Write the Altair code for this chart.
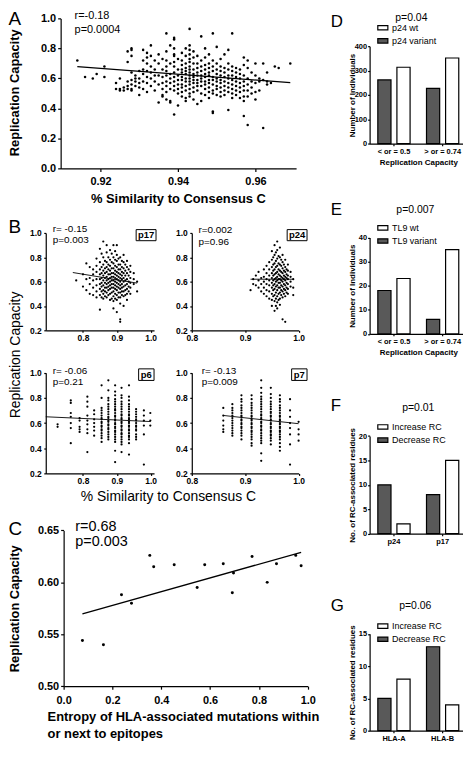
import altair as alt
import pandas as pd

# ---------------- values ----------------
# Panel A: (% similarity to consensus C, [replication capacity ...]) stripes
A_STRIPES = [
    (0.914, [0.72]), (0.916, [0.61]), (0.918, [0.60]), (0.919, [0.63]),
    (0.921, [0.68, 0.61]), (0.924, [0.57, 0.53]), (0.925, [0.53, 0.60, 0.52]),
    (0.926, [0.52, 0.54]), (0.927, [0.78, 0.71, 0.55, 0.53, 0.58]),
    (0.928, [0.80, 0.79, 0.75, 0.64, 0.59, 0.56, 0.53, 0.52]),
    (0.929, [0.62, 0.58, 0.55, 0.60]), (0.930, [0.65, 0.60, 0.57, 0.54, 0.49]),
    (0.931, [0.79, 0.72, 0.66, 0.63, 0.58, 0.53]),
    (0.932, [0.77, 0.74, 0.70, 0.65, 0.61, 0.57, 0.51]),
    (0.933, [0.82, 0.75, 0.68, 0.64, 0.60, 0.55]),
    (0.934, [0.72, 0.66, 0.62, 0.58, 0.52]), (0.935, [0.76, 0.70, 0.62, 0.56, 0.44]),
    (0.936, [0.73, 0.66, 0.61, 0.57, 0.53, 0.49, 0.48]),
    (0.937, [0.90, 0.78, 0.72, 0.68, 0.65, 0.62, 0.58, 0.55, 0.51, 0.46]),
    (0.938, [0.82, 0.70, 0.63, 0.60, 0.57, 0.53, 0.45, 0.44]),
    (0.939, [0.87, 0.86, 0.80, 0.76, 0.75, 0.71, 0.68, 0.64, 0.61, 0.58, 0.55, 0.52, 0.36]),
    (0.940, [0.73, 0.66, 0.62, 0.59, 0.56, 0.53, 0.50, 0.42]),
    (0.941, [0.77, 0.72, 0.69, 0.66, 0.64, 0.61, 0.59, 0.56, 0.54, 0.51, 0.48]),
    (0.942, [0.80, 0.75, 0.70, 0.67, 0.65, 0.63, 0.60, 0.58, 0.55, 0.52, 0.47, 0.45]),
    (0.943, [0.93, 0.82, 0.79, 0.76, 0.73, 0.71, 0.68, 0.66, 0.64, 0.62, 0.60, 0.58, 0.56, 0.53, 0.50, 0.48]),
    (0.944, [0.78, 0.74, 0.70, 0.66, 0.63, 0.61, 0.59, 0.57, 0.54, 0.51, 0.46]),
    (0.945, [0.75, 0.70, 0.67, 0.64, 0.62, 0.59, 0.57, 0.55, 0.52, 0.43]),
    (0.946, [0.88, 0.72, 0.68, 0.65, 0.62, 0.60, 0.58, 0.55, 0.50, 0.45]),
    (0.947, [0.80, 0.74, 0.69, 0.66, 0.63, 0.61, 0.58, 0.56, 0.53, 0.49]),
    (0.948, [0.76, 0.70, 0.67, 0.64, 0.62, 0.59, 0.57, 0.54, 0.51, 0.47]),
    (0.949, [0.90, 0.72, 0.68, 0.65, 0.61, 0.59, 0.56, 0.52, 0.50, 0.38, 0.37]),
    (0.950, [0.81, 0.70, 0.66, 0.63, 0.60, 0.58, 0.55, 0.53, 0.49]),
    (0.951, [0.73, 0.68, 0.65, 0.62, 0.59, 0.57, 0.54, 0.51, 0.48]),
    (0.952, [0.76, 0.67, 0.64, 0.61, 0.58, 0.55, 0.52, 0.49]),
    (0.953, [0.79, 0.70, 0.66, 0.62, 0.60, 0.57, 0.54, 0.51, 0.39]),
    (0.954, [0.90, 0.68, 0.65, 0.62, 0.59, 0.56, 0.53, 0.50, 0.47]),
    (0.955, [0.67, 0.64, 0.61, 0.58, 0.55, 0.52, 0.49]),
    (0.956, [0.66, 0.63, 0.60, 0.57, 0.54, 0.51, 0.47]),
    (0.957, [0.74, 0.69, 0.62, 0.58, 0.55, 0.52, 0.48, 0.45, 0.35]),
    (0.958, [0.72, 0.67, 0.60, 0.56, 0.52, 0.48, 0.29]),
    (0.959, [0.64, 0.58, 0.54, 0.50]), (0.960, [0.70, 0.62, 0.57, 0.51, 0.46]),
    (0.961, [0.60, 0.58, 0.52]), (0.962, [0.70, 0.59, 0.27]),
    (0.963, [0.64, 0.58, 0.56]), (0.964, [0.57]), (0.965, [0.68]),
    (0.966, [0.67]), (0.969, [0.70]),
]
A_FIT_X = [0.914, 0.969]
A_FIT_Y = [0.678, 0.572]

P17_STRIPES = [
    (0.78, [0.61]), (0.80, [0.66, 0.56]), (0.81, [0.75, 0.62, 0.53]),
    (0.82, [0.72, 0.63, 0.58, 0.50]), (0.83, [0.70, 0.66, 0.61, 0.55, 0.49]),
    (0.84, [0.79, 0.73, 0.68, 0.62, 0.57, 0.52, 0.47]),
    (0.85, [0.87, 0.76, 0.70, 0.66, 0.62, 0.58, 0.54, 0.49, 0.37]),
    (0.855, [0.83, 0.72, 0.67, 0.63, 0.59, 0.56, 0.52, 0.47]),
    (0.86, [0.93, 0.80, 0.74, 0.69, 0.65, 0.61, 0.57, 0.53, 0.50, 0.46]),
    (0.865, [0.77, 0.71, 0.67, 0.63, 0.59, 0.55, 0.52, 0.48]),
    (0.87, [0.90, 0.84, 0.76, 0.72, 0.68, 0.64, 0.61, 0.58, 0.55, 0.51, 0.47]),
    (0.875, [0.80, 0.74, 0.70, 0.66, 0.62, 0.59, 0.56, 0.53, 0.49]),
    (0.88, [0.86, 0.78, 0.73, 0.69, 0.66, 0.63, 0.60, 0.57, 0.54, 0.50, 0.45]),
    (0.885, [0.83, 0.76, 0.71, 0.67, 0.64, 0.61, 0.58, 0.55, 0.51, 0.46]),
    (0.89, [0.90, 0.80, 0.75, 0.71, 0.67, 0.64, 0.61, 0.58, 0.55, 0.52, 0.48, 0.44, 0.38]),
    (0.895, [0.85, 0.78, 0.73, 0.69, 0.66, 0.63, 0.60, 0.57, 0.54, 0.50, 0.46]),
    (0.90, [0.90, 0.82, 0.77, 0.72, 0.68, 0.65, 0.62, 0.59, 0.56, 0.53, 0.49, 0.45, 0.35]),
    (0.905, [0.79, 0.74, 0.70, 0.67, 0.64, 0.61, 0.58, 0.55, 0.51, 0.47]),
    (0.91, [0.80, 0.74, 0.70, 0.66, 0.63, 0.60, 0.57, 0.54, 0.51, 0.47, 0.42, 0.29, 0.27]),
    (0.915, [0.77, 0.72, 0.68, 0.65, 0.62, 0.58, 0.55, 0.52, 0.49]),
    (0.92, [0.82, 0.76, 0.71, 0.67, 0.63, 0.60, 0.56, 0.52, 0.48, 0.40]),
    (0.925, [0.74, 0.69, 0.65, 0.61, 0.57, 0.53, 0.49]),
    (0.93, [0.77, 0.72, 0.67, 0.62, 0.58, 0.54, 0.50, 0.45]),
    (0.935, [0.70, 0.65, 0.60, 0.56, 0.52]),
    (0.94, [0.73, 0.68, 0.63, 0.59, 0.55, 0.50]),
    (0.95, [0.67, 0.62, 0.58]), (0.96, [0.60, 0.52]),
]
P17_FIT_X = [0.77, 0.96]
P17_FIT_Y = [0.675, 0.588]

P24_STRIPES = [
    (0.910, [0.53]), (0.915, [0.58, 0.62]), (0.920, [0.65, 0.57]),
    (0.925, [0.55, 0.61, 0.68]), (0.930, [0.63, 0.58, 0.52]),
    (0.935, [0.70, 0.64, 0.60, 0.55, 0.50]),
    (0.940, [0.73, 0.67, 0.62, 0.58, 0.53, 0.48]),
    (0.945, [0.76, 0.70, 0.65, 0.61, 0.57, 0.52, 0.46]),
    (0.950, [0.85, 0.78, 0.72, 0.67, 0.63, 0.59, 0.55, 0.50, 0.45, 0.40]),
    (0.9525, [0.80, 0.74, 0.69, 0.65, 0.61, 0.57, 0.53, 0.48]),
    (0.955, [0.90, 0.82, 0.75, 0.70, 0.66, 0.62, 0.58, 0.54, 0.49, 0.44, 0.36]),
    (0.9575, [0.84, 0.77, 0.72, 0.67, 0.63, 0.60, 0.56, 0.51, 0.46, 0.40]),
    (0.960, [0.93, 0.86, 0.79, 0.73, 0.68, 0.64, 0.61, 0.57, 0.53, 0.48, 0.43, 0.38]),
    (0.9625, [0.81, 0.75, 0.70, 0.66, 0.62, 0.59, 0.55, 0.50, 0.45]),
    (0.965, [0.88, 0.80, 0.74, 0.69, 0.65, 0.62, 0.59, 0.55, 0.51, 0.46, 0.41]),
    (0.9675, [0.78, 0.73, 0.68, 0.64, 0.61, 0.57, 0.53, 0.49]),
    (0.970, [0.82, 0.76, 0.71, 0.67, 0.63, 0.60, 0.56, 0.52, 0.47, 0.29]),
    (0.9725, [0.74, 0.69, 0.65, 0.62, 0.58, 0.54, 0.50]),
    (0.975, [0.78, 0.72, 0.68, 0.64, 0.61, 0.57, 0.53, 0.48, 0.27]),
    (0.9775, [0.70, 0.66, 0.63, 0.59, 0.55, 0.51]),
    (0.980, [0.74, 0.69, 0.65, 0.62, 0.58, 0.54, 0.50]),
    (0.985, [0.68, 0.64, 0.60, 0.56]), (0.990, [0.62, 0.55, 0.49]),
]
P24_FIT_X = [0.91, 0.99]
P24_FIT_Y = [0.62, 0.62]

P6_STRIPES = [
    (0.725, [0.59, 0.57]),
    (0.764, [0.78, 0.76, 0.68, 0.65, 0.60, 0.56, 0.44]),
    (0.790, [0.64, 0.62, 0.57, 0.55, 0.53]),
    (0.813, [0.81, 0.77, 0.73, 0.66, 0.62, 0.59, 0.55, 0.52, 0.37]),
    (0.833, [0.70, 0.67, 0.63, 0.60, 0.57, 0.54, 0.50]),
    (0.855, [0.90, 0.80, 0.72, 0.68, 0.64, 0.61, 0.58, 0.55, 0.52, 0.48, 0.45]),
    (0.855, [0.70, 0.66, 0.63, 0.60, 0.57, 0.54, 0.50]),
    (0.875, [0.94, 0.86, 0.80, 0.75, 0.71, 0.67, 0.64, 0.61, 0.58, 0.55, 0.51, 0.47]),
    (0.875, [0.78, 0.73, 0.69, 0.65, 0.62, 0.59, 0.56, 0.53, 0.49]),
    (0.895, [0.90, 0.85, 0.79, 0.75, 0.71, 0.68, 0.65, 0.62, 0.59, 0.56, 0.53, 0.49, 0.45, 0.38, 0.29]),
    (0.895, [0.82, 0.77, 0.73, 0.70, 0.66, 0.63, 0.60, 0.57, 0.54, 0.51, 0.47]),
    (0.914, [0.88, 0.82, 0.77, 0.73, 0.69, 0.66, 0.63, 0.60, 0.57, 0.54, 0.51, 0.47, 0.43, 0.37]),
    (0.914, [0.80, 0.75, 0.71, 0.67, 0.64, 0.61, 0.58, 0.55, 0.52, 0.49, 0.45]),
    (0.936, [0.90, 0.81, 0.75, 0.71, 0.67, 0.64, 0.61, 0.58, 0.55, 0.52, 0.49, 0.44, 0.35]),
    (0.936, [0.78, 0.73, 0.69, 0.66, 0.63, 0.60, 0.57, 0.54, 0.50, 0.47]),
    (0.957, [0.71, 0.67, 0.63, 0.60, 0.57, 0.54, 0.51, 0.47]),
    (0.957, [0.69, 0.65, 0.62, 0.58, 0.55, 0.49]),
    (0.980, [0.70, 0.66, 0.62, 0.58, 0.51, 0.27]),
    (0.999, [0.68, 0.62, 0.58]),
]
P6_FIT_X = [0.69, 1.0]
P6_FIT_Y = [0.65, 0.612]

P7_STRIPES = [
    (0.859, [0.72, 0.66, 0.62, 0.58, 0.55, 0.53]),
    (0.876, [0.75, 0.70, 0.66, 0.62, 0.58, 0.54, 0.50]),
    (0.876, [0.72, 0.68, 0.64, 0.60, 0.56, 0.52]),
    (0.893, [0.82, 0.77, 0.72, 0.68, 0.65, 0.62, 0.59, 0.56, 0.52, 0.47]),
    (0.893, [0.79, 0.74, 0.70, 0.66, 0.63, 0.60, 0.57, 0.54, 0.50]),
    (0.912, [0.82, 0.76, 0.72, 0.68, 0.65, 0.62, 0.59, 0.56, 0.53, 0.49, 0.44, 0.42]),
    (0.912, [0.79, 0.74, 0.70, 0.66, 0.63, 0.60, 0.57, 0.54, 0.51, 0.47]),
    (0.930, [0.94, 0.88, 0.81, 0.77, 0.73, 0.69, 0.66, 0.63, 0.60, 0.57, 0.54, 0.50, 0.46, 0.36, 0.30]),
    (0.930, [0.84, 0.79, 0.75, 0.71, 0.67, 0.64, 0.61, 0.58, 0.55, 0.52, 0.48, 0.44]),
    (0.948, [0.88, 0.80, 0.75, 0.71, 0.68, 0.65, 0.62, 0.59, 0.56, 0.53, 0.50, 0.46]),
    (0.948, [0.83, 0.77, 0.73, 0.69, 0.66, 0.63, 0.60, 0.57, 0.54, 0.51, 0.48, 0.43]),
    (0.965, [0.82, 0.77, 0.72, 0.68, 0.65, 0.62, 0.59, 0.56, 0.53, 0.49, 0.44, 0.38]),
    (0.965, [0.79, 0.74, 0.70, 0.66, 0.63, 0.60, 0.57, 0.54, 0.51, 0.47, 0.41]),
    (0.984, [0.79, 0.70, 0.65, 0.60, 0.56, 0.51, 0.43, 0.27]),
    (1.000, [0.61, 0.55, 0.51, 0.46]),
]
P7_FIT_X = [0.86, 1.0]
P7_FIT_Y = [0.66, 0.595]

C_X = [0.077, 0.163, 0.237, 0.278, 0.353, 0.369, 0.453, 0.547, 0.578,
       0.654, 0.691, 0.696, 0.772, 0.834, 0.872, 0.951, 0.973]
C_Y = [0.544, 0.540, 0.588, 0.580, 0.626, 0.615, 0.617, 0.595, 0.617,
       0.618, 0.590, 0.609, 0.625, 0.600, 0.618, 0.626, 0.616]
C_FIT_X = [0.077, 0.973]
C_FIT_Y = [0.5696, 0.629]

RC_GROUPS = ["< or = 0.5", "> or = 0.74"]
D_VARIANT = [262, 227]
D_WT = [314, 352]
E_VARIANT = [18, 6]
E_WT = [23, 35]
F_GROUPS = ["p24", "p17"]
F_DECREASE = [10, 8]
F_INCREASE = [2, 15]
G_GROUPS = ["HLA-A", "HLA-B"]
G_DECREASE = [5, 13]
G_INCREASE = [8, 4]

# ---------------- layout ----------------
FONT = "Liberation Sans"
DARK = "#595959"
W, H = 458, 736


def X(v):
    return round(v - 5, 2)


def Y(v):
    return round(0.97 * v - 1, 2)


def stripes_df(stripes):
    rows = [(x, y) for x, ys in stripes for y in ys]
    return pd.DataFrame(rows, columns=["x", "y"])


def fit_df(xs, ys):
    return pd.DataFrame({"x": xs, "y": ys})


def scatter(df, fit, xdom, xpx, ydom, ypx, xvals, yvals, xfmt, yfmt,
            lab, tick, xpad, ypad, pt, lw, xtitle_kw, ytitle_kw):
    xs = alt.Scale(domain=xdom, range=[X(xpx[0]), X(xpx[1])], nice=False, zero=False)
    ys = alt.Scale(domain=ydom, range=[Y(ypx[0]), Y(ypx[1])], nice=False, zero=False)
    xax = dict(orient="bottom", offset=Y(ypx[0]) - H, values=xvals, format=xfmt,
               labelFontSize=lab, tickSize=tick, labelPadding=xpad, grid=False,
               labelFlush=False, labelOverlap=False)
    xax.update(xtitle_kw)
    yax = dict(orient="left", offset=-X(xpx[0]), values=yvals, format=yfmt,
               labelFontSize=lab, tickSize=tick, labelPadding=ypad, grid=False,
               labelFlush=False, labelOverlap=False)
    yax.update(ytitle_kw)
    enc = dict(x=alt.X("x:Q", scale=xs, axis=alt.Axis(**xax)),
               y=alt.Y("y:Q", scale=ys, axis=alt.Axis(**yax)))
    pts = alt.Chart(df).mark_circle(size=pt, color="black", opacity=1).encode(**enc)
    line = alt.Chart(fit).mark_line(color="black", strokeWidth=lw).encode(**enc)
    return alt.layer(pts, line)


RECT = "M-1.6,-0.7H1.6V0.7H-1.6Z"


def bars(groups, dark_name, dark_vals, light_name, light_vals, ymax, yvals,
         ytop, ybot, ytitle, xtitle, leg_row):
    df = pd.DataFrame({
        "group": groups + groups,
        "series": [dark_name] * len(groups) + [light_name] * len(groups),
        "value": dark_vals + light_vals,
    })
    xs = alt.Scale(domain=groups, range=[X(369), X(467)], paddingInner=0, paddingOuter=0)
    xo = alt.Scale(domain=[dark_name, light_name], paddingInner=0.31, paddingOuter=0.43)
    ys = alt.Scale(domain=[0, ymax], range=[Y(ybot), Y(ytop)], nice=False, zero=False)
    xax = dict(orient="bottom", offset=Y(ybot) - H, labelFontSize=7.5, tickSize=2,
               labelPadding=1.5, labelAngle=0, grid=False)
    if xtitle:
        xax.update(title=xtitle, titleFontSize=8, titleFontWeight="bold",
                   titleX=X(418), titleY=round(Y(ybot + 19.7) - Y(ybot), 2),
                   titleBaseline="middle", titleAlign="center")
    else:
        xax.update(title=None)
    yax = dict(orient="left", offset=-X(369), values=yvals, format="d",
               labelFontSize=7.5, tickSize=2, labelPadding=1, grid=False,
               title=ytitle, titleFontSize=8, titleFontWeight="bold",
               titleX=X(352) - X(369), titleY=Y((ytop + ybot) / 2), titleAngle=270,
               titleBaseline="middle", titleAlign="center", labelFlush=False)
    legend = alt.Legend(orient="none", legendX=X(377.8), legendY=round(Y(leg_row) - 4.5, 2),
                        title=None, symbolType=RECT, symbolSize=40,
                        symbolStrokeColor="black", symbolStrokeWidth=1.2,
                        labelFont=FONT, labelFontSize=9, labelFontWeight="normal",
                        labelColor="black", rowPadding=2.2, labelOffset=4.7, padding=0)
    return alt.Chart(df).mark_bar(stroke="black", strokeWidth=1.2).encode(
        x=alt.X("group:N", scale=xs, axis=alt.Axis(**xax)),
        xOffset=alt.XOffset("series:N", scale=xo),
        y=alt.Y("value:Q", scale=ys, axis=alt.Axis(**yax)),
        color=alt.Color("series:N",
                        scale=alt.Scale(domain=[light_name, dark_name], range=["white", DARK]),
                        legend=legend),
    )


def label(txt, x, y, size, weight="normal", align="left", baseline="middle"):
    return alt.Chart(pd.DataFrame({"t": [txt]})).mark_text(
        align=align, baseline=baseline, font=FONT, fontSize=size,
        fontWeight=weight, color="black").encode(
        x=alt.value(x), y=alt.value(y), text="t:N")


def box(x0, x1, y0, y1):
    return alt.Chart(pd.DataFrame({"b": [0]})).mark_rect(
        fillOpacity=0, stroke="black", strokeWidth=1).encode(
        x=alt.value(X(x0)), x2=alt.value(X(x1)), y=alt.value(Y(y0)), y2=alt.value(Y(y1)))


layers = []

# ---- Panel A ----
layers.append(scatter(
    stripes_df(A_STRIPES), fit_df(A_FIT_X, A_FIT_Y),
    [0.9097, 0.9705], (58, 295), [0, 1], (165, 9.3),
    [0.92, 0.94, 0.96], [0, 0.2, 0.4, 0.6, 0.8, 1.0], ".2f", ".1f",
    11, 3, 4, 2, 6.5, 1.2,
    dict(title="% Similarity to Consensus C", titleFontSize=13, titleFontWeight="bold",
         titleX=X(176), titleY=round(Y(196) - Y(165), 2), titleBaseline="middle",
         titleAlign="center"),
    dict(title="Replication Capacity", titleFontSize=13, titleFontWeight="bold",
         titleX=round(7 - X(58), 2), titleY=Y(86), titleAngle=270,
         titleBaseline="middle", titleAlign="center"),
))

# ---- Panel B ----
BY = [0.2, 0.4, 0.6, 0.8, 1.0]
BX = [0.8, 0.9, 1.0]
NO = dict(title=None)
layers.append(scatter(
    stripes_df(P17_STRIPES), fit_df(P17_FIT_X, P17_FIT_Y),
    [0.69, 1.01], (43, 152), [0.2, 1.0], (333, 232), BX, BY, ".1f", ".1f",
    8.5, 2, 1, 2.5, 5, 0.9, NO,
    dict(title="Replication Capacity", titleFontSize=14, titleFontWeight="normal",
         titleX=round(7.5 - X(43), 2), titleY=Y(358), titleAngle=270,
         titleBaseline="middle", titleAlign="center"),
))
layers.append(scatter(
    stripes_df(P24_STRIPES), fit_df(P24_FIT_X, P24_FIT_Y),
    [0.8, 1.0], (190, 297.5), [0.2, 1.0], (333, 232), BX, BY, ".1f", ".1f",
    8.5, 2, 1, 2.5, 5, 0.9, NO, NO,
))
layers.append(scatter(
    stripes_df(P6_STRIPES), fit_df(P6_FIT_X, P6_FIT_Y),
    [0.69, 1.01], (43, 152), [0.2, 1.0], (481.5, 377), BX, BY, ".1f", ".1f",
    8.5, 2, 1, 2.5, 5, 0.9,
    dict(title="% Similarity to Consensus C", titleFontSize=14, titleFontWeight="normal",
         titleX=X(166), titleY=round(Y(505) - Y(481.5), 2), titleBaseline="middle",
         titleAlign="center"),
    NO,
))
layers.append(scatter(
    stripes_df(P7_STRIPES), fit_df(P7_FIT_X, P7_FIT_Y),
    [0.8, 1.0], (190, 297.5), [0.2, 1.0], (481.5, 377), BX, BY, ".1f", ".1f",
    8.5, 2, 1, 2.5, 5, 0.9, NO, NO,
))

# ---- Panel C ----
layers.append(scatter(
    pd.DataFrame({"x": C_X, "y": C_Y}), fit_df(C_FIT_X, C_FIT_Y),
    [0, 1], (61, 306.7), [0.5, 0.65], (702.3, 540.7),
    [0, 0.2, 0.4, 0.6, 0.8, 1.0], [0.5, 0.55, 0.6, 0.65], ".1f", ".2f",
    11, 3, 5, 2, 9, 1.3,
    dict(title=["Entropy of HLA-associated mutations within", "or next to epitopes"],
         titleFontSize=13, titleFontWeight="bold", titleX=X(44.3),
         titleY=round(Y(734.3) - 6.5 - Y(702.3), 2), titleBaseline="top",
         titleAlign="left", titleLineHeight=16.9),
    dict(title="Replication Capacity", titleFontSize=13, titleFontWeight="bold",
         titleX=round(7 - X(61), 2), titleY=Y(621.5), titleAngle=270,
         titleBaseline="middle", titleAlign="center"),
))

# ---- Panels D-G ----
layers.append(bars(RC_GROUPS, "p24 variant", D_VARIANT, "p24 wt", D_WT, 400,
                   [0, 100, 200, 300, 400], 38.3, 139.3, "Number of Individuals",
                   "Replication Capacity", 19))
layers.append(bars(RC_GROUPS, "TL9 variant", E_VARIANT, "TL9 wt", E_WT, 40,
                   [0, 10, 20, 30, 40], 236.7, 336.7, "Number of Individuals",
                   "Replication Capacity", 226.7))
layers.append(bars(F_GROUPS, "Decrease RC", F_DECREASE, "Increase RC", F_INCREASE, 20,
                   [0, 5, 10, 15, 20], 442.7, 544, "No. of RC-associated residues",
                   None, 433.3))
layers.append(bars(G_GROUPS, "Decrease RC", G_DECREASE, "Increase RC", G_INCREASE, 15,
                   [0, 5, 10, 15], 648, 748.5, "No. of RC-associated residues",
                   None, 640))

# ---- annotations ----
for letter, lx, ly, fs in [("A", 0, 0, 19), ("B", 0, 217, 19), ("C", 0, 530, 19),
                           ("D", 330, 5, 17), ("E", 330, 200, 17),
                           ("F", 330, 403, 17), ("G", 330, 611, 17)]:
    layers.append(label(letter, max(X(lx), 0.5), max(Y(ly), 0), fs, baseline="top"))

for txt, cx, cy in [("p=0.04", 411, 8.5), ("p=0.007", 415, 208.3),
                    ("p=0.01", 418, 414), ("p=0.06", 415, 619)]:
    layers.append(label(txt, X(cx), Y(cy), 10.5, align="center"))

for t1, t2, lx, y1, y2, fs in [
    ("r=-0.18", "p=0.0004", 72, 7.3, 21.7, 11),
    ("r= -0.15", "p=0.003", 50, 228, 239.3, 10),
    ("r=0.002", "p=0.96", 196.7, 228.7, 241.3, 10),
    ("r= -0.06", "p=0.21", 50, 375, 386.7, 10),
    ("r= -0.13", "p=0.009", 200, 375, 386.7, 10),
    ("r=0.68", "p=0.003", 72.7, 536.7, 552.7, 14.5),
]:
    layers.append(label(t1, X(lx), Y(y1), fs))
    layers.append(label(t2, X(lx), Y(y2), fs))

for txt, x0, x1, y0, y1 in [("p17", 134, 154, 228.5, 240), ("p24", 286, 306, 228.5, 240),
                            ("p6", 136.5, 152, 373, 385), ("p7", 290.5, 306, 373, 385)]:
    layers.append(box(x0, x1, y0, y1))
    layers.append(label(txt, X((x0 + x1) / 2), Y((y0 + y1) / 2), 9.5, weight="bold",
                        align="center"))

chart = alt.layer(*layers).resolve_scale(
    x="independent", y="independent", color="independent", xOffset="independent"
).properties(width=W, height=H, padding=0).configure_view(stroke=None).configure_axis(
    domainColor="black", tickColor="black", labelColor="black", titleColor="black",
    labelFont=FONT, titleFont=FONT, labelFontWeight="bold", domainWidth=1.2,
    tickWidth=1.2, grid=False,
)

chart.save("out.html", embed_options={"renderer": "svg", "actions": False})
